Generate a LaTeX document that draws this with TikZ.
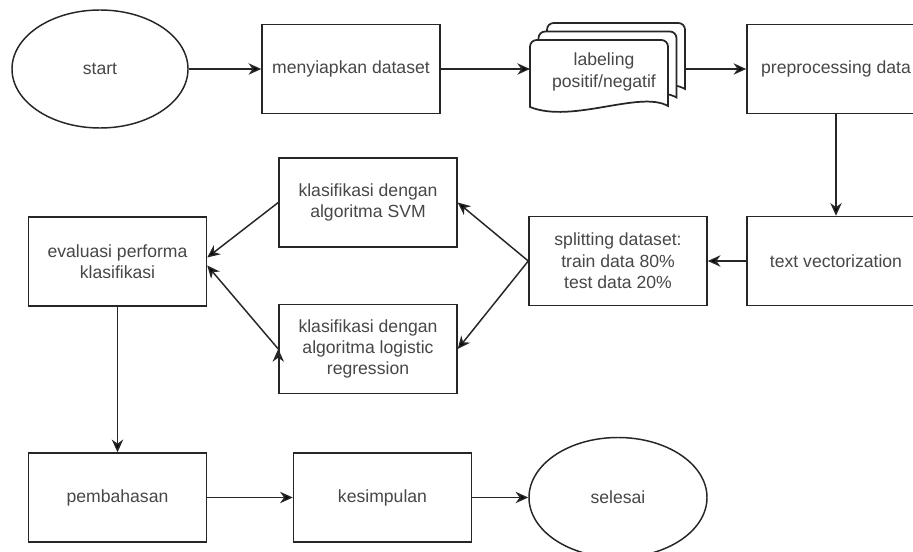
\documentclass[tikz,border=0pt]{standalone}
\usepackage{fontspec}
\setmainfont{Liberation Sans}
\usetikzlibrary{shapes.geometric,arrows.meta}
\tikzset{
  txt/.style={text=black!72,align=center,font=\fontsize{13.2}{16}\selectfont},
  box/.style={txt,draw=black!85,line width=1.1pt,fill=white,minimum width=133.5pt,minimum height=66.75pt,inner sep=0pt},
  oval/.style={box,ellipse,minimum width=132pt,minimum height=88.5pt},
  docline/.style={draw=black!85,line width=1.3pt,fill=white},
  flow/.style={draw=black!85,line width=1.1pt,-{Stealth[length=9.5pt,width=8.5pt,inset=3pt]}}
}

\begin{document}
\begin{tikzpicture}[x=0.75pt,y=-0.75pt]
\useasboundingbox (0,0) rectangle (913,552);
\clip (0,0) rectangle (913,552);
% stacked pages for the labeling step
\foreach \d in {2,1,0}
  \draw[docline,shift={(8.5*\d,-8.5*\d)}] (530,107) [rounded corners=5pt] -- (530,40) -- (668,40) [sharp corners] -- (668,106)
    .. controls (640,90) and (572,124) .. cycle;

\node[oval] (start) at (100,69) {start};
\node[box] (setup) at (351,69) {menyiapkan dataset};
\node[txt] (label) at (604,72) {labeling\\positif/negatif};
\coordinate (labelin) at (530,69);
\coordinate (labelout) at (685,69);
\node[box] (preproc) at (836,69) {preprocessing data};
\node[box] (vector) at (836,261) {text vectorization};
\node[box] (split) at (618,261) {splitting dataset:\\train data 80\%\\test data 20\%};
\node[box] (svm) at (368,202.5) {klasifikasi dengan\\algoritma SVM};
\node[box] (logreg) at (368,349) {klasifikasi dengan\\algoritma logistic\\regression};
\node[box] (eval) at (117.5,261.5) {evaluasi performa\\klasifikasi};
\node[box] (bahas) at (117.5,497.5) {pembahasan};
\node[box] (simpul) at (382.5,497.5) {kesimpulan};
\node[oval,minimum width=133.5pt,minimum height=90pt] (selesai) at (618,497.5) {selesai};

\path[flow]
(start)  edge (setup)
(setup)  edge (labelin)
(labelout) edge (preproc)
(preproc) edge (vector)
(vector) edge (split)
(split.west) edge (svm.east)
(split.west) edge (logreg.east)
(svm.west) edge ([yshift=3pt]eval.east)
(logreg.west) edge ([yshift=-3pt]eval.east)
(eval) edge (bahas)
(bahas) edge (simpul)
(simpul) edge (selesai);
\end{tikzpicture}
\end{document}
